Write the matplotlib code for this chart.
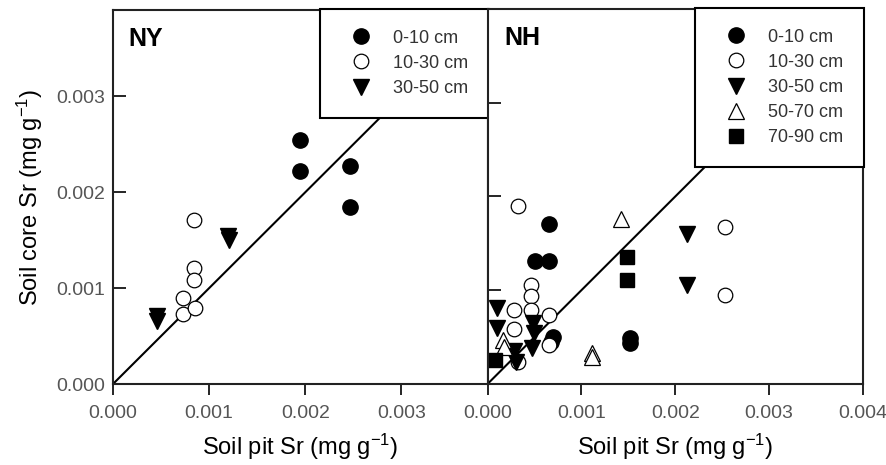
import numpy as np
import matplotlib.pyplot as plt

plt.rcParams['font.family'] = ['Liberation Sans', 'DejaVu Sans']
plt.rcParams['mathtext.default'] = 'regular'

# NY soil core vs soil pit Sr (mg/g)
ny_0_10_x = [0.00194, 0.00194, 0.00246, 0.00246]
ny_0_10_y = [0.00254, 0.00222, 0.00227, 0.00185]
ny_10_30_x = [0.00084, 0.00084, 0.00084, 0.00073, 0.00073, 0.00085]
ny_10_30_y = [0.00171, 0.00121, 0.00108, 0.00090, 0.00073, 0.00079]
ny_30_50_x = [0.00120, 0.00121, 0.00046, 0.00046]
ny_30_50_y = [0.00154, 0.00150, 0.00071, 0.00066]

# NH soil core vs soil pit Sr (mg/g)
nh_0_10_x = [0.00065, 0.00051, 0.00065, 0.00070, 0.00068, 0.00152, 0.00152]
nh_0_10_y = [0.00171, 0.00131, 0.00131, 0.00050, 0.00045, 0.00049, 0.00044]
nh_10_30_x = [0.00032, 0.00253, 0.00253, 0.00046, 0.00046, 0.00046, 0.00028,
              0.00065, 0.00028, 0.00065, 0.00033]
nh_10_30_y = [0.00190, 0.00167, 0.00095, 0.00106, 0.00094, 0.00079, 0.00079,
              0.00074, 0.00059, 0.00042, 0.00024]
nh_30_50_x = [0.00213, 0.00213, 0.00010, 0.00010, 0.00049, 0.00050, 0.00047,
              0.00028, 0.00030]
nh_30_50_y = [0.00160, 0.00106, 0.00081, 0.00060, 0.00065, 0.00054, 0.00038,
              0.00035, 0.00024]
nh_50_70_x = [0.00142, 0.00111, 0.00111, 0.00017, 0.00018]
nh_50_70_y = [0.00176, 0.00033, 0.00029, 0.00047, 0.00040]
nh_70_90_x = [0.00149, 0.00149, 0.00008]
nh_70_90_y = [0.00136, 0.00111, 0.00026]

fig = plt.figure(figsize=(8.86, 4.65), dpi=100)
ax1 = fig.add_axes([113/886, 81/465, 375/886, 374/465])
ax2 = fig.add_axes([487.5/886, 81/465, 375.5/886, 375/465])

def style(ax, lim, xticks, yticks, show_ylabels):
    ax.set_xlim(0, lim)
    ax.set_ylim(0, lim)
    ax.set_xticks(xticks)
    ax.set_yticks(yticks)
    ax.set_xticklabels(['%.3f' % t for t in xticks])
    if show_ylabels:
        ax.set_yticklabels(['%.3f' % t for t in yticks])
    else:
        ax.set_yticklabels([])
    ax.tick_params(axis='x', direction='out', length=8, width=1.2, pad=7,
                   labelsize=14, labelcolor='#555555')
    ax.tick_params(axis='y', direction='in', length=9, width=1.2, pad=6,
                   labelsize=14, labelcolor='#555555')
    for s in ax.spines.values():
        s.set_linewidth(1.5)
        s.set_color('#222222')
    # 1:1 line
    ax.plot([0, lim], [0, lim], color='black', lw=1.5, zorder=1)
    ax.set_xlabel('Soil pit Sr (mg g$^{-1}$)', fontsize=17, labelpad=7)

ticks3 = [0.0, 0.001, 0.002, 0.003]
ticks4 = [0.0, 0.001, 0.002, 0.003, 0.004]
style(ax1, 0.0039, ticks3, [0.0, 0.001, 0.002, 0.003], True)
style(ax2, 0.004, ticks4, [0.001, 0.002, 0.003], False)
ax1.set_ylabel('Soil core Sr (mg g$^{-1}$)', fontsize=17, labelpad=8)

filled = dict(color='black', mec='black', ls='none')
opn = dict(mfc='white', mec='black', mew=0.9, ls='none')

ax1.plot(ny_0_10_x, ny_0_10_y, 'o', ms=11, label='0-10 cm', **filled)
ax1.plot(ny_10_30_x, ny_10_30_y, 'o', ms=10.5, label='10-30 cm', **opn)
ax1.plot(ny_30_50_x, ny_30_50_y, 'v', ms=11.5, label='30-50 cm', **filled)

ax2.plot(nh_0_10_x, nh_0_10_y, 'o', ms=11, label='0-10 cm', **filled)
ax2.plot(nh_10_30_x, nh_10_30_y, 'o', ms=10.5, label='10-30 cm', **opn)
ax2.plot(nh_30_50_x, nh_30_50_y, 'v', ms=11.5, label='30-50 cm', **filled)
ax2.plot(nh_50_70_x, nh_50_70_y, '^', ms=11, label='50-70 cm', **opn)
ax2.plot(nh_70_90_x, nh_70_90_y, 's', ms=10, label='70-90 cm', **filled)

for ax in (ax1, ax2):
    leg = ax.legend(loc='upper right', bbox_to_anchor=(1.003, 1.003),
                    borderaxespad=0, fontsize=13, frameon=True, fancybox=False,
                    framealpha=1, edgecolor='black', handletextpad=0.7,
                    borderpad=1.15, labelspacing=0.45, handlelength=2.2)
    leg.get_frame().set_linewidth(1.5)
    leg.set_zorder(5)
    for t in leg.get_texts():
        t.set_color('#333333')

ax1.text(0.04, 0.955, 'NY', transform=ax1.transAxes, fontsize=18,
         fontweight='bold', va='top', ha='left')
ax2.text(0.045, 0.955, 'NH', transform=ax2.transAxes, fontsize=18,
         fontweight='bold', va='top', ha='left')

fig.savefig('out.png', dpi=100)
